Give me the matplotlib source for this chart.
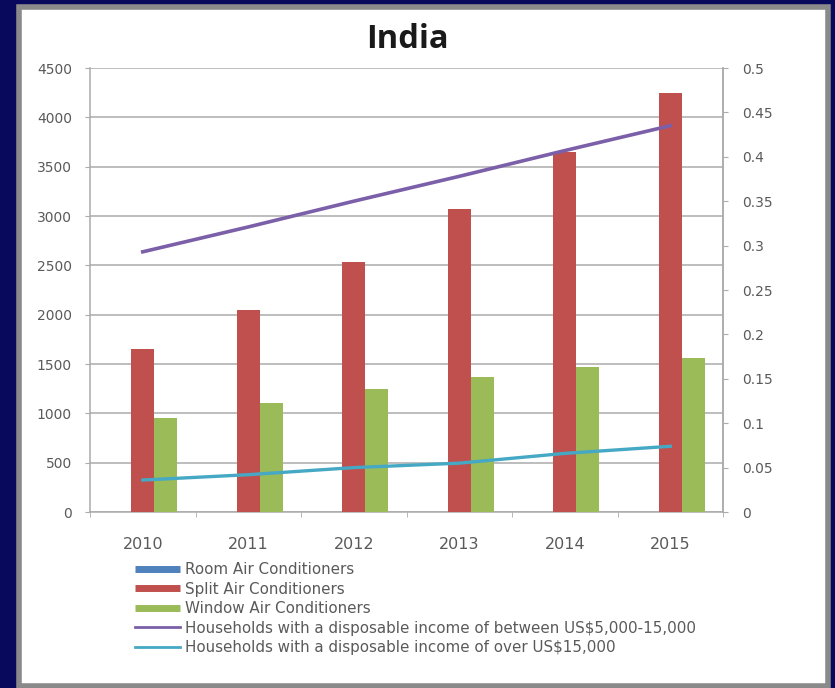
import matplotlib
matplotlib.use("Agg")
import matplotlib.pyplot as plt
from matplotlib.patches import Rectangle
from matplotlib.lines import Line2D
import numpy as np

# ---- data ----
years = ["2010", "2011", "2012", "2013", "2014", "2015"]
room_ac = [0, 0, 0, 0, 0, 0]
split_ac = [1650, 2050, 2530, 3070, 3650, 4250]
window_ac = [950, 1100, 1250, 1370, 1470, 1560]
income_5k_15k = [0.293, 0.321, 0.350, 0.378, 0.407, 0.435]
income_over_15k = [0.036, 0.042, 0.050, 0.055, 0.066, 0.074]

left_ticks = list(range(0, 4501, 500))
right_ticks = [0, 0.05, 0.1, 0.15, 0.2, 0.25, 0.3, 0.35, 0.4, 0.45, 0.5]
right_labels = ["0", "0.05", "0.1", "0.15", "0.2", "0.25", "0.3", "0.35", "0.4", "0.45", "0.5"]

series_names = [
    "Room Air Conditioners",
    "Split Air Conditioners",
    "Window Air Conditioners",
    "Households with a disposable income of between US$5,000-15,000",
    "Households with a disposable income of over US$15,000",
]

c_room = "#4f81bd"
c_split = "#c0504d"
c_window = "#9bbb59"
c_purple = "#7b5fa8"
c_cyan = "#45a8c4"
grid_c = "#ababab"
text_c = "#5a5a5a"

plt.rcParams["font.family"] = ["DejaVu Sans"]

W, H = 835, 688
fig = plt.figure(figsize=(W / 100, H / 100), dpi=100)
fig.patch.set_facecolor("#08085c")

# white chart panel with grey frame
panel = Rectangle((19 / W, 1 - 686 / H), (828 - 19) / W, (686 - 7) / H,
                  transform=fig.transFigure, facecolor="white",
                  edgecolor="#8a8a8a", linewidth=4, zorder=0)
fig.patches.append(panel)

ax = fig.add_axes([90 / W, 1 - 512 / H, (723 - 90) / W, (512 - 68) / H])
ax.set_facecolor("white")
ax.set_zorder(1)

x = np.arange(len(years))
bw = 0.218
ax.bar(x - bw, room_ac, bw, color=c_room, zorder=3)
ax.bar(x, split_ac, bw, color=c_split, zorder=3)
ax.bar(x + bw, window_ac, bw, color=c_window, zorder=3)

ax.set_xlim(-0.5, len(years) - 0.5)
ax.set_ylim(0, 4500)
ax.set_yticks(left_ticks)
ax.set_yticklabels([str(t) for t in left_ticks])
ax.yaxis.grid(True, color=grid_c, linewidth=1.1, zorder=0)
ax.set_axisbelow(True)

ax.set_xticks(x)
ax.set_xticklabels(years)
ax.set_xticks(np.arange(-0.5, len(years), 1.0), minor=True)
ax.tick_params(axis="x", which="major", length=0, pad=18, labelsize=11.5, colors=text_c)
ax.tick_params(axis="x", which="minor", length=3.5, color=grid_c, direction="out")
ax.tick_params(axis="y", length=3.5, color=grid_c, labelsize=10, colors=text_c, pad=9.5)

ax.spines["top"].set_visible(False)
for s in ["left", "bottom", "right"]:
    ax.spines[s].set_color(grid_c)
    ax.spines[s].set_linewidth(1.1)

ax2 = ax.twinx()
ax2.plot(x, income_5k_15k, color=c_purple, linewidth=2.6, zorder=4)
ax2.plot(x, income_over_15k, color=c_cyan, linewidth=2.4, zorder=4)
ax2.set_ylim(0, 0.5)
ax2.set_yticks(right_ticks)
ax2.set_yticklabels(right_labels)
ax2.tick_params(axis="y", length=3.5, color=grid_c, labelsize=10, colors=text_c, pad=10)
for s in ["top", "left", "bottom"]:
    ax2.spines[s].set_visible(False)
ax2.spines["right"].set_color(grid_c)
ax2.spines["right"].set_linewidth(1.1)

fig.text(407 / W, 1 - 40 / H, "India", ha="center", va="center",
         fontsize=23.5, fontweight="bold", color="#1a1a1a",
         family=["Open Sans", "DejaVu Sans"])

handles = [
    Line2D([0], [0], color=c_room, linewidth=5, solid_capstyle="butt"),
    Line2D([0], [0], color=c_split, linewidth=5, solid_capstyle="butt"),
    Line2D([0], [0], color=c_window, linewidth=5, solid_capstyle="butt"),
    Line2D([0], [0], color=c_purple, linewidth=2.0),
    Line2D([0], [0], color=c_cyan, linewidth=2.0),
]
fig.legend(handles, series_names, loc="upper left",
           bbox_to_anchor=(135 / W, 1 - 562 / H), frameon=False,
           fontsize=10.9, labelcolor=text_c, handlelength=2.95,
           handletextpad=0.38, labelspacing=0.3, borderpad=0, borderaxespad=0)

fig.savefig("out.png", dpi=100, facecolor=fig.get_facecolor())
